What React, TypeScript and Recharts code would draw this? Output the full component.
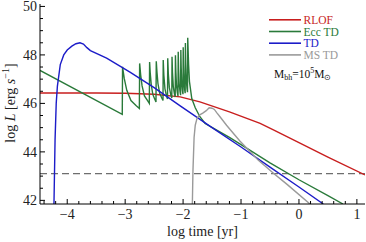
import React from "react";
import { LineChart, Line, XAxis, YAxis, ReferenceLine, Legend } from "recharts";

const SERIF = '"Liberation Serif", "Times New Roman", serif';

// series names / colours (legend order)
const seriesNames = ["RLOF", "Ecc TD", "TD", "MS TD"];
const seriesColors = ["#c81e1e", "#2a7a3a", "#1c1cc8", "#9a9a9a"];

// RLOF
const rlofX = [-4.47, -3.5, -3, -2.5, -2.05, -1.71, -1.2, -0.67, -0.45, 0, 0.5, 1.14];
const rlofY = [46.43, 46.43, 46.42, 46.38, 46.27, 46.06, 45.65, 45.18, 44.92, 44.38, 43.78, 43.05];

// Ecc TD (sawtooth flares, then power-law tail)
const eccX = [
  -4.47, -3.05,
  -3.045, -3.016, -2.972, -2.9, -2.813, -2.755,
  -2.75, -2.733, -2.708, -2.667, -2.616, -2.583,
  -2.578, -2.567, -2.55, -2.523, -2.49, -2.468,
  -2.463, -2.451, -2.434, -2.405, -2.37, -2.347,
  -2.343, -2.332, -2.313, -2.287, -2.269,
  -2.265, -2.255, -2.237, -2.212, -2.195,
  -2.191, -2.183, -2.169, -2.15, -2.136,
  -2.132, -2.125, -2.114, -2.099, -2.088,
  -2.084, -2.078, -2.068, -2.053, -2.043,
  -2.039, -2.033, -2.024, -2.011, -2.002,
  -1.998, -1.993, -1.984, -1.973, -1.964,
  -1.96, -1.955, -1.945, -1.933, -1.924,
  -1.92, -1.905, -1.89, -1.85, -1.79, -1.71, -1.62, -1.48, -1.2, -1, -0.5, 0, 0.5, 0.76,
];
const eccY = [
  47.36, 45.55,
  47.51, 47.03, 46.54, 46.12, 45.91, 45.79,
  47.65, 47.19, 46.72, 46.31, 46.12, 46.0,
  47.71, 47.25, 46.78, 46.37, 46.18, 46.06,
  47.74, 47.29, 46.82, 46.43, 46.23, 46.12,
  47.79, 47.16, 46.6, 46.31, 46.18,
  47.86, 47.22, 46.65, 46.35, 46.22,
  47.92, 47.27, 46.69, 46.39, 46.26,
  47.99, 47.33, 46.74, 46.43, 46.3,
  48.13, 47.43, 46.81, 46.48, 46.34,
  48.2, 47.49, 46.85, 46.52, 46.38,
  48.32, 47.58, 46.91, 46.57, 46.42,
  48.49, 47.7, 46.99, 46.62, 46.46,
  48.71, 47.6, 46.9, 46.2, 45.82, 45.45, 45.17, 44.98, 44.6, 44.3, 43.55, 42.85, 42.2, 41.85,
];

// TD
const tdX = [-4.23, -4.21, -4.19, -4.17, -4.12, -4.06, -4.0, -3.92, -3.85, -3.78, -3.72, -3.66, -3.6, -3.32, -2.91, -2.5, -2.05, -1.5, -1, -0.5, 0, 0.42];
const tdY = [41.7, 44.5, 46.0, 46.7, 47.6, 48.0, 48.2, 48.36, 48.46, 48.5, 48.45, 48.3, 48.18, 47.87, 47.28, 46.65, 45.9, 45.0, 44.2, 43.37, 42.55, 41.85];

// MS TD
const msX = [-1.84, -1.83, -1.81, -1.79, -1.76, -1.72, -1.66, -1.6, -1.55, -1.5, -1.46, -1.42, -1.36, -1.25, -1.13, -1.02, -0.9, -0.7, -0.43, -0.2, 0.19];
const msY = [41.85, 43.2, 44.6, 45.1, 45.38, 45.52, 45.6, 45.7, 45.82, 45.8, 45.75, 45.62, 45.44, 45.1, 44.76, 44.45, 44.15, 43.65, 43.1, 42.65, 41.85];

const thresholdY = 43.1;

const xDomain: [number, number] = [-4.47, 1.14];
const yDomain: [number, number] = [41.85, 50.1];
const xMajor = [-4, -3, -2, -1, 0, 1];
const yMajor = [42, 44, 46, 48, 50];

// minor ticks every 0.2 on x, 0.5 on y
const xTicks: number[] = [];
for (let i = -22; i <= 5; i++) xTicks.push(+(i * 0.2).toFixed(1));
const yTicks: number[] = [];
for (let i = 84; i <= 100; i++) yTicks.push(i * 0.5);

const pairs = (xs: number[], ys: number[]) => xs.map((x, i) => ({ x, y: ys[i] }));
const seriesData = [pairs(rlofX, rlofY), pairs(eccX, eccY), pairs(tdX, tdY), pairs(msX, msY)];

const isMajor = (v: number, majors: number[]) => majors.some((m) => Math.abs(m - v) < 1e-6);
const fmt = (v: number) => (v < 0 ? `\u2212${Math.abs(v)}` : `${v}`);

const MAJ = 5;
const MIN = 3;
const ROW = 11.7;

const BottomTick = (p: any) => {
  const v = p.payload.value;
  const major = isMajor(v, xMajor);
  return (
    <g>
      <line x1={p.x} x2={p.x} y1={p.y} y2={p.y - (major ? MAJ : MIN)} stroke="#000" />
      {major && (
        <text x={p.x} y={p.y + 15} textAnchor="middle" fontFamily={SERIF} fontSize={14} fill="#222">
          {fmt(v)}
        </text>
      )}
    </g>
  );
};

const TopTick = (p: any) => {
  const major = isMajor(p.payload.value, xMajor);
  return <line x1={p.x} x2={p.x} y1={p.y} y2={p.y + (major ? MAJ : MIN)} stroke="#000" />;
};

const LeftTick = (p: any) => {
  const v = p.payload.value;
  const major = isMajor(v, yMajor);
  return (
    <g>
      <line x1={p.x} x2={p.x + (major ? MAJ : MIN)} y1={p.y} y2={p.y} stroke="#000" />
      {major && (
        <text x={p.x - 3} y={p.y + 5} textAnchor="end" fontFamily={SERIF} fontSize={14} fill="#222">
          {v}
        </text>
      )}
    </g>
  );
};

const RightTick = (p: any) => {
  const major = isMajor(p.payload.value, yMajor);
  return <line x1={p.x} x2={p.x - (major ? MAJ : MIN)} y1={p.y} y2={p.y} stroke="#000" />;
};

const XTitle = (p: any) => {
  const vb = p.viewBox;
  return (
    <text x={vb.x + vb.width / 2} y={vb.y + 32} textAnchor="middle" fontFamily={SERIF} fontSize={14} fill="#222">
      log time [yr]
    </text>
  );
};

const YTitle = () => (
  <text transform="translate(15, 103) rotate(-90)" textAnchor="middle" fontFamily={SERIF} fontSize={14} fill="#222">
    log <tspan fontStyle="italic">L</tspan> [erg <tspan fontStyle="italic">s</tspan>
    <tspan fontSize={10} dy={-6}>{"\u22121"}</tspan>
    <tspan dy={6}>]</tspan>
  </text>
);

// legend drawn as svg so rows sit at exact offsets
const LegendBox = () => (
  <svg width={96} height={70} style={{ display: "block", overflow: "visible" }} fontFamily={SERIF}>
    {seriesNames.map((name, i) => (
      <g key={name}>
        <line x1={1} x2={33} y1={5.8 + i * ROW} y2={5.8 + i * ROW} stroke={seriesColors[i]} strokeWidth={1.6} />
        <text x={35.5} y={9.8 + i * ROW} fontSize={11.5} fill={seriesColors[i]}>
          {name}
        </text>
      </g>
    ))}
    <text x={6} y={63.8} fontSize={11.5} fill="#111">
      M<tspan fontSize={8} dy={2}>bh</tspan>
      <tspan dy={-2}>=10</tspan>
      <tspan fontSize={8} dy={-5}>5</tspan>
      <tspan dy={5}>M</tspan>
      <tspan fontSize={8} dy={2}>{"\u2299"}</tspan>
    </text>
  </svg>
);

export default function App() {
  return (
    <div style={{ position: "absolute", left: 0, top: 0 }}>
      <LineChart width={366} height={242} margin={{ top: 4, right: 1, left: 0, bottom: 0 }}>
        <XAxis
          dataKey="x"
          type="number"
          domain={xDomain}
          ticks={xTicks}
          interval={0}
          allowDataOverflow
          height={38}
          tickSize={0}
          tickMargin={0}
          tickLine={false}
          tick={BottomTick}
          axisLine={{ stroke: "#000" }}
          label={<XTitle />}
        />
        <XAxis
          xAxisId="top"
          orientation="top"
          dataKey="x"
          type="number"
          domain={xDomain}
          ticks={xTicks}
          interval={0}
          allowDataOverflow
          height={0}
          tickSize={0}
          tickMargin={0}
          tickLine={false}
          tick={TopTick}
          axisLine={{ stroke: "#000" }}
        />
        <YAxis
          type="number"
          domain={yDomain}
          ticks={yTicks}
          interval={0}
          allowDataOverflow
          width={40}
          tickSize={0}
          tickMargin={0}
          tickLine={false}
          tick={LeftTick}
          axisLine={{ stroke: "#000" }}
          label={<YTitle />}
        />
        <YAxis
          yAxisId="right"
          orientation="right"
          type="number"
          domain={yDomain}
          ticks={yTicks}
          interval={0}
          allowDataOverflow
          width={0}
          tickSize={0}
          tickMargin={0}
          tickLine={false}
          tick={RightTick}
          axisLine={{ stroke: "#000" }}
        />
        <ReferenceLine y={thresholdY} stroke="#6e6e6e" strokeWidth={1.3} strokeDasharray="7 4" />
        {seriesData.map((d, i) => (
          <Line
            key={seriesNames[i]}
            data={d}
            dataKey="y"
            name={seriesNames[i]}
            type="linear"
            stroke={seriesColors[i]}
            strokeWidth={1.4}
            dot={false}
            activeDot={false}
            isAnimationActive={false}
          />
        ))}
        <Legend
          layout="vertical"
          align="center"
          verticalAlign="middle"
          content={<LegendBox />}
          wrapperStyle={{ position: "absolute", left: 268, top: 13.5, width: "auto" }}
        />
      </LineChart>
    </div>
  );
}
